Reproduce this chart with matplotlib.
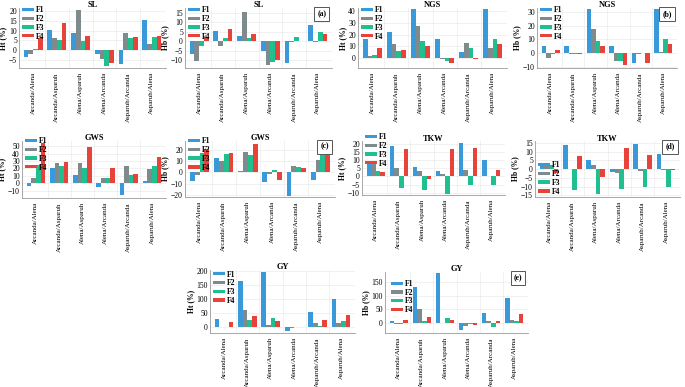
import numpy as np
import matplotlib
matplotlib.use('Agg')
import matplotlib.pyplot as plt

plt.rcParams['font.family'] = ['Liberation Serif', 'DejaVu Serif']

# Datos ----------------------------------------------------------------------->
cruces = ['Arcanda/Alena', 'Arcanda/Asparuh', 'Alena/Asparuh',
          'Alena/Arcanda', 'Asparuh/Arcanda', 'Asparuh/Alena']
series = ['F1', 'F2', 'F3', 'F4']
colores = ['#3a9ad9', '#7f8a8c', '#1fbf8f', '#e8433a']

# SL
sl_ht = [[-3.5, 10.5, 9, -2, -7, 15.5],
         [-2, 6.5, 20.5, -4.5, 9, 3],
         [0.8, 5, 4.5, -8, 6, 7],
         [6.5, 14, 7.5, -6.5, 7, 7.5]]
sl_hb = [[-6.5, 5.5, 3, -5, -11.5, 8.5],
         [-10.5, -2.5, 15.5, -12.5, -0.3, -0.5],
         [-2.5, 1.5, 2, -11, 2.5, 5],
         [2.5, 6.5, 4, -10, 0, 4]]
# NGS
ngs_ht = [[16, 22, 42, 16.5, 5, 42],
          [1, 12, 27.5, -1.5, 13, 8],
          [2.5, 6, 14, -3, 8, 16],
          [8.5, 6.5, 10, -5, -1, 12]]
ngs_hb = [[5, 5, 32, 5.5, -7.5, 32],
          [-3.5, -1, 17.5, -6, -0.5, 0.5],
          [-1, -1, 9, -5.5, 0, 10.5],
          [2.5, -0.5, 5, -9, -7, 6.5]]
# GWS
gws_ht = [[-4, 20, 11.5, -5, -16, 2.5],
          [7, 27, 27, 7.5, 23, 19.5],
          [24.5, 23, 20.5, 7.5, 11.5, 23],
          [54, 28.5, 49.5, 20.5, 12.5, 36]]
gws_hb = [[-8, 12.5, 1.5, -9, -21, -7],
          [-2, 10.5, 18, -1.5, 6, 11],
          [17.5, 16, 15.5, 2, 5, 17.5],
          [20.5, 17.5, 25, -6.5, 3.5, 26.5]]
# TKW
tkw_ht = [[7.5, 19, 6, 3.5, 20.5, 10],
          [8.5, 5.5, 3.5, 1.5, 4, 0],
          [3.5, -7, -8.5, -11, -5, -5],
          [3, 17, -1.5, 17, 17.5, 4]]
tkw_hb = [[1.5, 13.5, 5, -1.5, 14.5, 8.5],
          [3, 0, 2.5, -2.5, -1, -0.5],
          [2.5, -12, -14, -11.5, -10, -10.5],
          [-2, 7.5, -4.5, 12, 8, -0.5]]
# GY
gy_ht = [[30, 165, 197, -12, 55, 102],
         [2, 62, 8, -3, 15, 17],
         [2, 27, 33, 1, 5, 23],
         [20, 42, 22, 1, 28, 45]]
gy_hb = [[7, 130, 180, -25, 37, 93],
         [-2, 52, 2, -10, 7, 12],
         [-2, 8, 18, -3, -12, 8],
         [13, 22, 12, -5, 10, 35]]

W, H = 685, 387


def caja(izq, arriba, der, abajo):
    # convertir pixeles a coordenadas de figura
    return [izq / W, 1 - abajo / H, (der - izq) / W, (abajo - arriba) / H]


fig = plt.figure(figsize=(W / 100, H / 100), dpi=100)

# (datos, titulo, ylabel, letra, caja, ylim, ticks, legend loc, legend anchor, titulo_y)
paneles = [
    (sl_ht, 'SL', 'Ht (%)', None, (19, 8, 166, 68), (-9, 21.5), range(-5, 21, 5), 'upper left', (0.0, 1.08), 1.02),
    (sl_hb, 'SL', 'Hb (%)', '(a)', (185, 8, 332, 68), (-14, 17.5), range(-10, 16, 5), 'upper left', (0.0, 1.08), 1.02),
    (ngs_ht, 'NGS', 'Ht (%)', None, (358, 8, 507, 68), (-9, 43), range(0, 41, 10), 'upper left', (0.0, 1.08), 1.02),
    (ngs_hb, 'NGS', 'Hb (%)', '(b)', (537, 8, 677, 68), (-11, 33), range(-10, 31, 10), 'upper left', (0.0, 1.08), 1.02),
    (gws_ht, 'GWS', 'Ht (%)', None, (22, 141, 166, 198), (-20, 57), range(-10, 51, 10), 'upper left', (0.0, 1.12), 1.02),
    (gws_hb, 'GWS', 'Hb (%)', '(c)', (185, 141, 335, 197), (-22, 28), range(-20, 21, 10), 'upper left', (0.0, 1.12), 1.02),
    (tkw_ht, 'TKW', 'Ht (%)', None, (362, 141, 505, 195), (-11.5, 22), range(-10, 21, 5), 'upper left', (0.0, 1.2), 1.0),
    (tkw_hb, 'TKW', 'Hb (%)', '(d)', (535, 141, 680, 197), (-16, 16), range(-15, 16, 5), 'lower left', (0.0, -0.03), 1.0),
    (gy_ht, 'GY', 'Ht (%)', None, (210, 270, 355, 333), (-20, 205), range(0, 201, 50), 'upper left', (0.0, 1.04), 1.02),
    (gy_hb, 'GY', 'Hb (%)', '(e)', (385, 272, 528, 333), (-35, 185), range(0, 151, 50), 'upper left', (0.02, 0.92), 1.02),
]

x = np.arange(len(cruces))
ancho = 0.2

for datos, titulo, ylab, letra, box, ylim, ticks, loc, anchor, ty in paneles:
    ax = fig.add_axes(caja(*box))
    for i, (serie, valores) in enumerate(zip(series, datos)):
        ax.bar(x + (i - 1.5) * ancho, valores, ancho, color=colores[i], label=serie, zorder=3)

    ax.set_xlim(-0.6, len(cruces) - 0.4)
    ax.set_ylim(*ylim)
    ax.set_yticks(list(ticks))
    ax.set_xticks(x)
    ax.set_xticklabels(cruces, rotation=90, fontsize=5)
    ax.tick_params(axis='y', labelsize=5.5, length=0, pad=1.5)
    ax.tick_params(axis='x', length=0, pad=3)

    # grilla suave
    ax.grid(axis='y', color='#ececec', linewidth=0.5, zorder=0)
    for v in x[:-1] + 0.5:
        ax.axvline(v, color='#ececec', linewidth=0.5, zorder=0)

    for lado in ['top', 'right']:
        ax.spines[lado].set_visible(False)
    for lado in ['left', 'bottom']:
        ax.spines[lado].set_color('#9a9a9a')
        ax.spines[lado].set_linewidth(0.6)

    ax.set_ylabel(ylab, fontsize=5.5, fontweight='bold', labelpad=1)
    ax.set_title(titulo, fontsize=6, fontweight='bold', y=ty, pad=0)

    ax.legend(loc=loc, bbox_to_anchor=anchor, frameon=False,
              handlelength=1.6, handleheight=0.3, handletextpad=0.2,
              labelspacing=0.1, borderpad=0.2, borderaxespad=0.2,
              prop={'weight': 'bold', 'size': 5.5})

    if letra:
        ax.text(0.93, 0.9, letra, transform=ax.transAxes, ha='center', va='center',
                fontsize=5.5, fontweight='bold',
                bbox=dict(boxstyle='square,pad=0.4', facecolor='white', edgecolor='#555555', linewidth=0.7))

plt.savefig('out.png', dpi=100)
plt.close()
